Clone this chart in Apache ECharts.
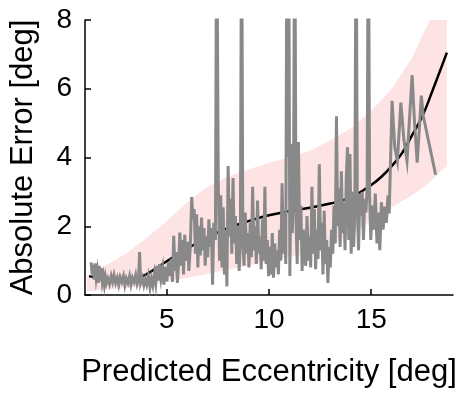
<!DOCTYPE html>
<html>
<head>
<meta charset="utf-8">
<script src="https://cdn.jsdelivr.net/npm/echarts@6/dist/echarts.min.js"></script>
<style>
  html, body { margin: 0; padding: 0; background: #fff; }
  #chart { width: 461px; height: 396px; }
</style>
</head>
<body>
<div id="chart"></div>
<script>
// measured absolute error (gray, noisy)
const grayX = [
  1.30, 1.35, 1.40, 1.45, 1.50, 1.55, 1.60, 1.65, 1.70, 1.75, 1.80, 1.85, 1.90, 1.95, 2.00, 2.05, 2.12, 2.20, 2.28, 2.35,
  2.42, 2.50, 2.58, 2.65, 2.72, 2.80, 2.88, 2.95, 3.02, 3.10, 3.18, 3.25, 3.32, 3.40, 3.48, 3.55, 3.62, 3.67, 3.72, 3.80, 3.88, 3.95,
  4.02, 4.10, 4.18, 4.25, 4.32, 4.40, 4.46, 4.52, 4.58, 4.65, 4.72, 4.80, 4.86, 4.93, 5.00, 5.08, 5.15, 5.22, 5.28, 5.34,
  5.40, 5.46, 5.52, 5.58, 5.64, 5.70, 5.76, 5.82, 5.88, 5.95, 6.02, 6.08, 6.15, 6.22, 6.28, 6.34, 6.40, 6.46, 6.52, 6.58,
  6.64, 6.70, 6.76, 6.82, 6.88, 6.94, 7.00, 7.06, 7.12, 7.18, 7.24, 7.30, 7.38, 7.44, 7.52, 7.58, 7.64, 7.70, 7.76, 7.82,
  7.88, 7.94, 8.00, 8.06, 8.12, 8.18, 8.24, 8.30, 8.36, 8.42, 8.48, 8.54, 8.60, 8.66, 8.72, 8.78, 8.84, 8.90, 8.96, 9.02,
  9.08, 9.14, 9.20, 9.26, 9.32, 9.38, 9.44, 9.50, 9.56, 9.62, 9.68, 9.74, 9.80, 9.86, 9.92, 9.98, 10.04, 10.10, 10.16, 10.22,
  10.28, 10.34, 10.40, 10.46, 10.52, 10.58, 10.64, 10.70, 10.76, 10.82, 10.88, 10.92, 10.96, 11.02, 11.08, 11.14, 11.20, 11.26,
  11.32, 11.38, 11.44, 11.50, 11.56, 11.62, 11.68, 11.74, 11.80, 11.86, 11.92, 11.98, 12.04, 12.10, 12.16, 12.22, 12.28, 12.34,
  12.40, 12.46, 12.52, 12.58, 12.64, 12.70, 12.76, 12.82, 12.88, 12.94, 13.00, 13.06, 13.12, 13.18, 13.24, 13.30, 13.36, 13.42,
  13.48, 13.54, 13.60, 13.66, 13.72, 13.78, 13.84, 13.90, 13.96, 14.02, 14.08, 14.14, 14.20, 14.26, 14.32, 14.38, 14.44, 14.50,
  14.56, 14.62, 14.68, 14.74, 14.80, 14.86, 14.92, 14.98, 15.05, 15.12, 15.20, 15.28, 15.35, 15.42, 15.50, 15.58, 15.66, 15.74,
  15.82, 15.88, 16.02, 16.15, 16.28, 16.45, 16.60, 16.75, 17.00, 17.12, 17.25, 17.45, 17.55, 18.15
];
const grayY = [
  0.95, 0.60, 0.88, 0.45, 0.92, 0.50, 0.70, 0.35, 0.85, 0.40, 0.78, 0.38, 0.55, 0.30, 0.52, 0.35, 0.48, 0.32, 0.55, 0.38,
  0.58, 0.35, 0.50, 0.30, 0.52, 0.38, 0.55, 0.28, 0.48, 0.35, 0.55, 0.30, 0.50, 0.38, 0.58, 0.32, 0.45, 1.25, 0.35, 0.50, 0.28, 0.45,
  0.30, 0.55, 0.22, 0.48, 0.28, 0.62, 0.35, 0.85, 0.42, 0.90, 0.48, 0.78, 0.30, 0.82, 0.40, 0.95, 0.55, 1.05, 0.38, 1.72,
  0.70, 1.25, 0.35, 0.95, 1.82, 0.85, 1.60, 0.60, 1.75, 1.00, 1.55, 0.70, 1.40, 2.85, 2.20, 2.50, 1.20, 2.35, 0.80, 2.00,
  1.15, 2.25, 1.30, 1.95, 0.85, 1.70, 1.10, 2.20, 1.40, 1.95, 0.30, 2.10, 1.60, 12.0, 3.20, 1.00, 2.90, 0.80, 2.55, 0.60,
  1.90, 0.25, 3.75, 1.70, 2.80, 1.20, 3.40, 1.50, 2.30, 0.90, 2.00, 0.70, 1.60, 12.0, 1.50, 0.85, 2.40, 1.20, 1.80, 0.80,
  2.10, 1.10, 3.15, 1.30, 2.00, 0.90, 2.75, 1.20, 1.70, 0.75, 2.20, 1.00, 3.15, 0.90, 1.60, 0.55, 1.40, 0.60, 1.80, 0.50,
  1.50, 0.80, 1.30, 0.60, 1.90, 1.00, 3.25, 1.20, 2.40, 0.90, 12.0, 4.00, 12.0, 0.55, 4.40, 1.80, 3.20, 12.0,
  2.20, 0.90, 4.45, 1.60, 2.60, 0.70, 1.90, 1.10, 0.85, 2.30, 1.00, 1.70, 0.80, 3.15, 1.20, 2.50, 0.75, 1.90,
  1.05, 3.80, 1.30, 2.10, 0.60, 2.45, 0.90, 1.60, 0.35, 1.40, 0.80, 1.90, 1.20, 2.60, 1.50, 5.20, 2.00, 3.10,
  1.40, 3.60, 1.80, 2.70, 1.30, 3.40, 4.30, 1.60, 4.10, 1.20, 3.00, 1.40, 2.40, 12.0, 2.60, 1.30, 2.95, 2.30,
  3.00, 1.60, 2.80, 2.40, 3.10, 12.0, 2.90, 1.60, 2.60, 1.90, 2.95, 1.50, 2.40, 1.30, 2.70, 1.90, 2.57, 2.10,
  2.90, 2.37, 5.65, 4.30, 3.90, 5.60, 4.50, 3.90, 6.40, 5.00, 3.85, 5.80, 5.20, 3.50
];

// fitted trend (black)
const fitX = [1.2, 2.0, 2.8, 3.5, 4.0, 5.0, 6.0, 7.0, 8.0, 9.0, 10.0, 11.0, 12.0, 13.0, 14.0, 15.0, 15.5, 16.0, 16.5, 17.0, 17.5, 18.0, 18.7];
const fitY = [0.55, 0.45, 0.40, 0.48, 0.60, 0.98, 1.35, 1.68, 1.95, 2.15, 2.32, 2.44, 2.54, 2.66, 2.84, 3.20, 3.44, 3.75, 4.12, 4.65, 5.20, 5.95, 7.05];

// confidence band (pink)
const bandX = [1.1, 2, 3, 4, 5, 6, 7, 8, 9, 10, 11, 12, 13, 14, 15, 16, 17, 17.7, 18.7];
const bandLower = [0.12, 0.15, 0.20, 0.28, 0.38, 0.50, 0.62, 0.74, 0.86, 0.98, 1.10, 1.25, 1.45, 1.75, 2.15, 2.55, 2.90, 3.20, 3.75];
const bandUpper = [0.55, 0.85, 1.20, 1.65, 2.15, 2.70, 3.15, 3.45, 3.65, 3.85, 4.00, 4.20, 4.50, 4.85, 5.35, 6.00, 6.90, 7.80, 9.00];

const xTicks = [5, 10, 15];
const yTicks = [0, 2, 4, 6, 8];

const chart = echarts.init(document.getElementById('chart'));
const font = 'Liberation Sans, Arial, Helvetica, sans-serif';

const axisBase = {
  axisLine: { show: true, lineStyle: { color: '#000', width: 1.5 } },
  axisTick: { show: true, inside: true, length: 6, lineStyle: { color: '#000', width: 1.5 } },
  splitLine: { show: false },
};

// band drawn as one polygon: upper edge forward, lower edge back
const renderBand = (params, api) => {
  if (params.dataIndex !== 0) return;
  const top = bandX.map((x, i) => api.coord([x, bandUpper[i]]));
  const bottom = bandX.map((x, i) => api.coord([x, bandLower[i]])).reverse();
  return {
    type: 'polygon',
    shape: { points: top.concat(bottom) },
    style: { fill: '#fde3e3' },
  };
};

chart.setOption({
  animation: false,
  grid: { left: 85, right: 8, top: 20, bottom: 101, outerBoundsMode: 'none' },
  xAxis: {
    ...axisBase,
    type: 'value',
    min: 1,
    max: 19,
    name: 'Predicted Eccentricity [deg]',
    nameLocation: 'middle',
    nameGap: 62,
    nameTextStyle: { color: '#000', fontSize: 31, fontFamily: font },
    axisTick: { ...axisBase.axisTick, customValues: xTicks },
    axisLabel: { customValues: xTicks, color: '#000', fontSize: 28, fontFamily: font, margin: 11 },
  },
  yAxis: {
    ...axisBase,
    type: 'value',
    min: 0,
    max: 8,
    interval: 2,
    name: 'Absolute Error [deg]',
    nameLocation: 'middle',
    nameGap: 46,
    nameTextStyle: { color: '#000', fontSize: 31, fontFamily: font },
    axisTick: { ...axisBase.axisTick, customValues: yTicks },
    axisLabel: { customValues: yTicks, color: '#000', fontSize: 28, fontFamily: font, margin: 13 },
  },
  series: [
    {
      type: 'custom',
      renderItem: renderBand,
      clip: true,
      data: bandX.map((x, i) => [x, bandLower[i], bandUpper[i]]),
      encode: { x: 0, y: [1, 2] },
      z: 1,
    },
    {
      type: 'line',
      smooth: 0.4,
      symbol: 'none',
      lineStyle: { color: '#000', width: 2.5 },
      data: fitX.map((x, i) => [x, fitY[i]]),
      z: 2,
    },
    {
      type: 'line',
      symbol: 'none',
      lineStyle: { color: '#898989', width: 3, join: 'miter' },
      data: grayX.map((x, i) => [x, grayY[i]]),
      z: 3,
    },
  ],
});
</script>
</body>
</html>
